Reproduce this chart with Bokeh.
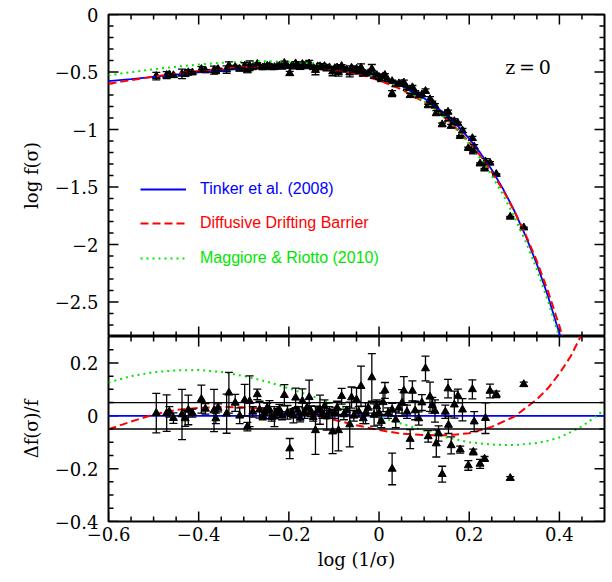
from bokeh.plotting import figure
from bokeh.models import (Range1d, Whisker, TeeHead, ColumnDataSource, Legend,
                          LegendItem, Label, Span, CustomJSTickFormatter, FixedTicker)
from bokeh.layouts import column
from bokeh.embed import file_html
from bokeh.resources import INLINE

# ---------------- model curves (top panel, log f) ----------------
top_x = [-0.6, -0.55, -0.5, -0.45, -0.4, -0.35, -0.3, -0.25, -0.2, -0.15, -0.1, -0.05, 0.0,
         0.05, 0.1, 0.125, 0.15, 0.175, 0.2, 0.225, 0.25, 0.275, 0.3, 0.325, 0.35, 0.375, 0.4, 0.425]
tinker_log = [-0.5797, -0.5615, -0.5423, -0.5230, -0.5040, -0.4863, -0.4710, -0.4596, -0.4540,
              -0.4566, -0.4706, -0.4994, -0.5479, -0.6218, -0.7289, -0.7974, -0.8778, -0.9715,
              -1.0801, -1.2057, -1.3505, -1.5166, -1.7067, -1.9240, -2.1715, -2.4534, -2.7737, -3.1368]
ddb_log = [-0.6024, -0.5711, -0.5401, -0.5135, -0.4912, -0.4722, -0.4573, -0.4485, -0.4475,
           -0.4557, -0.4772, -0.5153, -0.5720, -0.6524, -0.7618, -0.8308, -0.9112, -1.0035,
           -1.1097, -1.2307, -1.3691, -1.5276, -1.7080, -1.9133, -2.1453, -2.4100, -2.7092, -3.047]
mr_log = [-0.5282, -0.5008, -0.4760, -0.4541, -0.4347, -0.4196, -0.4103, -0.4065, -0.4111,
          -0.4252, -0.4515, -0.4917, -0.5501, -0.6350, -0.7539, -0.8285, -0.9150, -1.0134,
          -1.1259, -1.2539, -1.4006, -1.5677, -1.7578, -1.9736, -2.2190, -2.4963, -2.8109, -3.164]

# ---------------- model residuals (bottom panel) ----------------
res_x = [-0.6, -0.55, -0.5, -0.45, -0.4, -0.35, -0.3, -0.25, -0.2, -0.15, -0.1, -0.05, 0.0,
         0.05, 0.1, 0.15, 0.2, 0.25, 0.3, 0.35, 0.375, 0.4, 0.425, 0.45, 0.475, 0.5]
ddb_res = [-0.051, -0.022, 0.005, 0.022, 0.030, 0.033, 0.032, 0.026, 0.015, 0.002, -0.015, -0.036,
           -0.054, -0.068, -0.073, -0.074, -0.066, -0.042, -0.003, 0.062, 0.105, 0.16, 0.225, 0.31,
           0.41, 0.52]
mr_res = [0.126, 0.150, 0.165, 0.172, 0.173, 0.166, 0.150, 0.130, 0.104, 0.075, 0.045, 0.018,
          -0.005, -0.030, -0.056, -0.082, -0.100, -0.109, -0.111, -0.103, -0.094, -0.082, -0.062,
          -0.040, -0.010, 0.023]
tinker_res_x = [-0.6, 0.5]
tinker_res = [0.0, 0.0]
band = [-0.05, 0.05]

# ---------------- simulation data ----------------
data_x = [-0.494, -0.471, -0.465, -0.456, -0.437, -0.430, -0.423, -0.414, -0.394, -0.385,
          -0.366, -0.362, -0.357, -0.338, -0.333, -0.319, -0.309, -0.298, -0.292, -0.287,
          -0.280, -0.270, -0.265, -0.258, -0.254, -0.248, -0.243, -0.238, -0.232, -0.226,
          -0.221, -0.215, -0.210, -0.203, -0.198, -0.194, -0.190, -0.185, -0.180, -0.175,
          -0.170, -0.165, -0.160, -0.155, -0.151, -0.146, -0.141, -0.136, -0.131, -0.126,
          -0.121, -0.116, -0.110, -0.103, -0.098, -0.093, -0.090, -0.083, -0.078, -0.072,
          -0.065, -0.061, -0.056, -0.050, -0.045, -0.040, -0.035, -0.030, -0.024, -0.016,
          -0.011, -0.005, 0.000, 0.005, 0.009, 0.013, 0.020, 0.029, 0.029, 0.037,
          0.044, 0.051, 0.055, 0.062, 0.069, 0.074, 0.080, 0.088, 0.095, 0.103,
          0.109, 0.113, 0.118, 0.124, 0.127, 0.132, 0.140, 0.147, 0.153, 0.154,
          0.160, 0.167, 0.175, 0.180, 0.185, 0.198, 0.207, 0.209, 0.211, 0.224,
          0.234, 0.236, 0.246, 0.260, 0.291, 0.321]
data_res = [0.010, 0.010, 0.015, -0.009, 0.005, -0.010, 0.022, 0.010, 0.063, 0.026,
            0.020, -0.010, 0.030, 0.008, 0.087, 0.049, 0.000, 0.059, -0.041, 0.055,
            0.015, 0.081, 0.023, 0.000, 0.010, 0.030, 0.023, -0.005, -0.003, 0.015,
            0.023, 0.000, 0.078, 0.013, -0.124, 0.010, 0.000, 0.068, 0.020, -0.008,
            0.056, 0.010, 0.030, 0.070, 0.017, -0.005, -0.055, 0.020, 0.023, 0.005,
            0.035, -0.003, 0.015, -0.060, 0.010, 0.030, -0.055, 0.074, 0.005, 0.020,
            -0.033, 0.069, 0.000, 0.061, 0.015, 0.112, -0.010, 0.010, 0.030, 0.145,
            0.003, 0.035, 0.010, -0.020, 0.051, 0.096, 0.010, -0.201, 0.023, -0.015,
            0.030, 0.049, 0.095, 0.015, -0.088, 0.094, 0.020, -0.010, 0.050, 0.179,
            -0.078, 0.072, 0.040, 0.018, -0.105, -0.067, -0.221, 0.015, 0.103, -0.035,
            -0.112, 0.042, 0.075, -0.128, 0.023, -0.188, 0.100, -0.137, -0.022, -0.182,
            -0.163, -0.009, 0.094, 0.081, -0.236, 0.119]
data_res_err = [0.075, 0.069, 0.020, 0.020, 0.095, 0.030, 0.056, 0.015, 0.053, 0.020,
                0.080, 0.020, 0.015, 0.074, 0.077, 0.032, 0.030, 0.060, 0.016, 0.096,
                0.020, 0.020, 0.032, 0.015, 0.020, 0.018, 0.034, 0.015, 0.038, 0.012,
                0.020, 0.015, 0.040, 0.026, 0.038, 0.012, 0.027, 0.037, 0.015, 0.015,
                0.046, 0.020, 0.018, 0.065, 0.020, 0.015, 0.091, 0.015, 0.055, 0.015,
                0.025, 0.051, 0.020, 0.083, 0.020, 0.025, 0.078, 0.030, 0.020, 0.015,
                0.085, 0.040, 0.020, 0.045, 0.020, 0.076, 0.020, 0.040, 0.020, 0.090,
                0.042, 0.025, 0.045, 0.025, 0.035, 0.030, 0.020, 0.060, 0.024, 0.030,
                0.020, 0.050, 0.053, 0.025, 0.036, 0.038, 0.035, 0.025, 0.030, 0.047,
                0.022, 0.055, 0.030, 0.042, 0.051, 0.029, 0.030, 0.025, 0.035, 0.032,
                0.032, 0.051, 0.026, 0.013, 0.042, 0.018, 0.036, 0.011, 0.038, 0.017,
                0.009, 0.058, 0.026, 0.012, 0.006, 0.008]
data_logf = [-0.5357, -0.5268, -0.5223, -0.5292, -0.5159, -0.5198, -0.5033, -0.5050, -0.4754, -0.4876,
             -0.4834, -0.4950, -0.4760, -0.4791, -0.4449, -0.4560, -0.4738, -0.4456, -0.4874, -0.4448,
             -0.4599, -0.4304, -0.4531, -0.4614, -0.4562, -0.4466, -0.4489, -0.4605, -0.4589, -0.4504,
             -0.4465, -0.4557, -0.4225, -0.4487, -0.5116, -0.4500, -0.4545, -0.4262, -0.4464, -0.4588,
             -0.4319, -0.4515, -0.4433, -0.4269, -0.4492, -0.4599, -0.4837, -0.4519, -0.4520, -0.4611,
             -0.4498, -0.4674, -0.4613, -0.4967, -0.4675, -0.4618, -0.5010, -0.4494, -0.4811, -0.4781,
             -0.5054, -0.4641, -0.4960, -0.4737, -0.4978, -0.4630, -0.5184, -0.5145, -0.5118, -0.4736,
             -0.5359, -0.5282, -0.5436, -0.5641, -0.5396, -0.5273, -0.5732, -0.6883, -0.5809, -0.6092,
             -0.6001, -0.6031, -0.5931, -0.6410, -0.7025, -0.6342, -0.6775, -0.7076, -0.6970, -0.6663,
             -0.7910, -0.7374, -0.7655, -0.7927, -0.8576, -0.8544, -0.9566, -0.8624, -0.8473, -0.9095,
             -0.9700, -0.9287, -0.9476, -1.0587, -1.0095, -1.1625, -1.0766, -1.1930, -1.1493, -1.2971,
             -1.3413, -1.2787, -1.2899, -1.3879, -1.7595, -1.8531]
data_logf_err = [0.033, 0.030, 0.009, 0.009, 0.041, 0.013, 0.024, 0.007, 0.023, 0.009,
                 0.035, 0.009, 0.007, 0.032, 0.033, 0.014, 0.013, 0.026, 0.007, 0.042,
                 0.009, 0.009, 0.014, 0.007, 0.009, 0.008, 0.015, 0.007, 0.017, 0.005,
                 0.009, 0.007, 0.017, 0.011, 0.017, 0.005, 0.012, 0.016, 0.007, 0.007,
                 0.020, 0.009, 0.008, 0.028, 0.009, 0.007, 0.040, 0.007, 0.024, 0.007,
                 0.011, 0.022, 0.009, 0.036, 0.009, 0.011, 0.034, 0.013, 0.009, 0.007,
                 0.037, 0.017, 0.009, 0.020, 0.009, 0.033, 0.009, 0.017, 0.009, 0.039,
                 0.018, 0.011, 0.020, 0.011, 0.015, 0.013, 0.009, 0.026, 0.010, 0.013,
                 0.009, 0.022, 0.023, 0.011, 0.016, 0.017, 0.015, 0.011, 0.013, 0.020,
                 0.010, 0.024, 0.013, 0.018, 0.022, 0.013, 0.013, 0.011, 0.015, 0.014,
                 0.014, 0.022, 0.011, 0.006, 0.018, 0.008, 0.016, 0.005, 0.017, 0.007,
                 0.004, 0.025, 0.011, 0.005, 0.003, 0.004]

# ---------------- ticks ----------------
x_major = [-0.6, -0.4, -0.2, 0.0, 0.2, 0.4]
x_minor = [-0.55, -0.5, -0.45, -0.35, -0.3, -0.25, -0.15, -0.1, -0.05,
           0.05, 0.1, 0.15, 0.25, 0.3, 0.35, 0.45]
y1_major = [0.0, -0.5, -1.0, -1.5, -2.0, -2.5]
y1_minor = [-0.1, -0.2, -0.3, -0.4, -0.6, -0.7, -0.8, -0.9, -1.1, -1.2, -1.3, -1.4,
            -1.6, -1.7, -1.8, -1.9, -2.1, -2.2, -2.3, -2.4, -2.6, -2.7]
y2_major = [0.2, 0.0, -0.2, -0.4]
y2_minor = [0.25, 0.15, 0.1, 0.05, -0.05, -0.1, -0.15, -0.25, -0.3, -0.35]

legend_labels = ["Tinker et al. (2008)", "Diffusive Drifting Barrier", "Maggiore & Riotto (2010)"]
BLUE, RED, GREEN = "#0000ff", "#ff0000", "#00e600"
SERIF = "DejaVu Serif"

fmt_code = """
var v = Math.round(tick * 1000) / 1000;
if (Math.abs(v) < 1e-9) { return "0"; }
return v.toString().replace("-", "\u2212");
"""

XMIN, XMAX = -0.6, 0.5
Y1MIN, Y1MAX = -2.8, 0.0
Y2MIN, Y2MAX = -0.4, 0.3
W = 606
LEFT = 108
H1_FRAME = 322          # pixel height of the top frame
H2_FRAME = 186          # approx pixel height of the bottom frame
W_FRAME = W - LEFT - 2  # pixel width of the frames
MAJOR_PX, MINOR_PX = 10, 5


def style_axis(ax, major, label):
    ax.ticker = FixedTicker(ticks=major)
    ax.axis_line_color = None
    ax.major_tick_line_color = None
    ax.minor_tick_line_color = None
    ax.major_tick_in = 0
    ax.major_tick_out = 0
    ax.minor_tick_in = 0
    ax.minor_tick_out = 0
    ax.formatter = CustomJSTickFormatter(code=fmt_code)
    ax.major_label_text_font = SERIF
    ax.major_label_text_font_size = "18px"
    ax.major_label_text_color = "black"
    ax.axis_label = label
    ax.axis_label_text_font = SERIF
    ax.axis_label_text_font_size = "18px"
    ax.axis_label_text_font_style = "normal"
    ax.axis_label_text_color = "black"


def frame_ticks(p, xmaj, xmin_, ymaj, ymin_, x0, x1, y0, y1, frame_h):
    # inward tick marks on all four frame edges, drawn as head-less whiskers
    dxp = (x1 - x0) / W_FRAME
    dyp = (y1 - y0) / frame_h
    hb, hlo, hhi = [], [], []   # horizontal ticks (left / right edges)
    for ticks, px in ((ymaj, MAJOR_PX), (ymin_, MINOR_PX)):
        for t in ticks:
            hb += [t, t]
            hlo += [x0, x1 - px * dxp]
            hhi += [x0 + px * dxp, x1]
    vb, vlo, vhi = [], [], []   # vertical ticks (bottom / top edges)
    for ticks, px in ((xmaj, MAJOR_PX), (xmin_, MINOR_PX)):
        for t in ticks:
            vb += [t, t]
            vlo += [y0, y1 - px * dyp]
            vhi += [y0 + px * dyp, y1]
    p.add_layout(Whisker(source=ColumnDataSource(dict(b=hb, lo=hlo, hi=hhi)),
                         base="b", lower="lo", upper="hi", dimension="width",
                         lower_head=None, upper_head=None,
                         line_color="black", line_width=1.5))
    p.add_layout(Whisker(source=ColumnDataSource(dict(b=vb, lo=vlo, hi=vhi)),
                         base="b", lower="lo", upper="hi", dimension="height",
                         lower_head=None, upper_head=None,
                         line_color="black", line_width=1.5))


xr = Range1d(XMIN, XMAX)

# ---------------- top panel ----------------
p1 = figure(width=W, height=14 + H1_FRAME, x_range=xr, y_range=Range1d(Y1MIN, Y1MAX),
            output_backend="svg", toolbar_location=None,
            min_border_left=LEFT, min_border_right=2, min_border_top=14, min_border_bottom=0)
p1.grid.visible = False
p1.outline_line_color = "black"
p1.outline_line_width = 2
p1.xaxis.visible = False
style_axis(p1.yaxis[0], y1_major, "log f(\u03c3)")
p1.yaxis[0].major_label_standoff = 10
p1.yaxis[0].axis_label_standoff = 10

src1 = ColumnDataSource(dict(
    x=data_x, y=data_logf,
    lo=[v - e for v, e in zip(data_logf, data_logf_err)],
    hi=[v + e for v, e in zip(data_logf, data_logf_err)]))
p1.add_layout(Whisker(source=src1, base="x", upper="hi", lower="lo", dimension="height",
                      line_color="black", line_width=1.3, level="glyph",
                      upper_head=TeeHead(size=8, line_color="black", line_width=1.3),
                      lower_head=TeeHead(size=8, line_color="black", line_width=1.3)))
p1.scatter("x", "y", source=src1, marker="triangle", size=8, color="black")

r_t = p1.line(top_x, tinker_log, color=BLUE, line_width=1.8)
r_d = p1.line(top_x, ddb_log, color=RED, line_width=2, line_dash="8 4")
r_m = p1.line(top_x, mr_log, color=GREEN, line_width=2, line_dash="2 4")
frame_ticks(p1, x_major, x_minor, y1_major, y1_minor, XMIN, XMAX, Y1MIN, Y1MAX, H1_FRAME)

for (lab, rend, col, ypos) in zip(legend_labels, [r_t, r_d, r_m], [BLUE, RED, GREEN], [137, 103, 68]):
    lg = Legend(items=[LegendItem(label=lab, renderers=[rend])], location=(32, ypos),
                label_text_color=col, label_text_font="Liberation Sans",
                label_text_font_size="16px", glyph_width=46, glyph_height=20,
                label_standoff=14, padding=0, margin=0, spacing=0,
                border_line_color=None, background_fill_alpha=0)
    p1.add_layout(lg)

p1.add_layout(Label(x=0.28, y=-0.46, text="z\u2009=\u20090", text_font=SERIF,
                    text_font_size="19px", text_baseline="middle", text_color="black"))

# ---------------- bottom panel ----------------
p2 = figure(width=W, height=236, x_range=xr, y_range=Range1d(Y2MIN, Y2MAX),
            output_backend="svg", toolbar_location=None,
            min_border_left=LEFT, min_border_right=2, min_border_top=0, min_border_bottom=0)
p2.grid.visible = False
p2.outline_line_color = "black"
p2.outline_line_width = 2
style_axis(p2.xaxis[0], x_major, "log (1/\u03c3)")
p2.xaxis[0].major_label_standoff = 5
p2.xaxis[0].axis_label_standoff = 5
style_axis(p2.yaxis[0], y2_major, "\u0394f(\u03c3)/f")
p2.yaxis[0].major_label_standoff = 10
p2.yaxis[0].axis_label_standoff = 10

for b in band:
    p2.add_layout(Span(location=b, dimension="width", line_color="black", line_width=1.3))

src2 = ColumnDataSource(dict(
    x=data_x, y=data_res,
    lo=[v - e for v, e in zip(data_res, data_res_err)],
    hi=[v + e for v, e in zip(data_res, data_res_err)]))
p2.line(tinker_res_x, tinker_res, color=BLUE, line_width=1.8)
p2.line(res_x, ddb_res, color=RED, line_width=2, line_dash="8 4")
p2.line(res_x, mr_res, color=GREEN, line_width=2, line_dash="2 4")
p2.add_layout(Whisker(source=src2, base="x", upper="hi", lower="lo", dimension="height",
                      line_color="black", line_width=1.3, level="glyph",
                      upper_head=TeeHead(size=8, line_color="black", line_width=1.3),
                      lower_head=TeeHead(size=8, line_color="black", line_width=1.3)))
p2.scatter("x", "y", source=src2, marker="triangle", size=8, color="black")
frame_ticks(p2, x_major, x_minor, y2_major, y2_minor, XMIN, XMAX, Y2MIN, Y2MAX, H2_FRAME)

layout = column(p1, p2, spacing=0)
open("out.html", "w").write(file_html(layout, INLINE))
